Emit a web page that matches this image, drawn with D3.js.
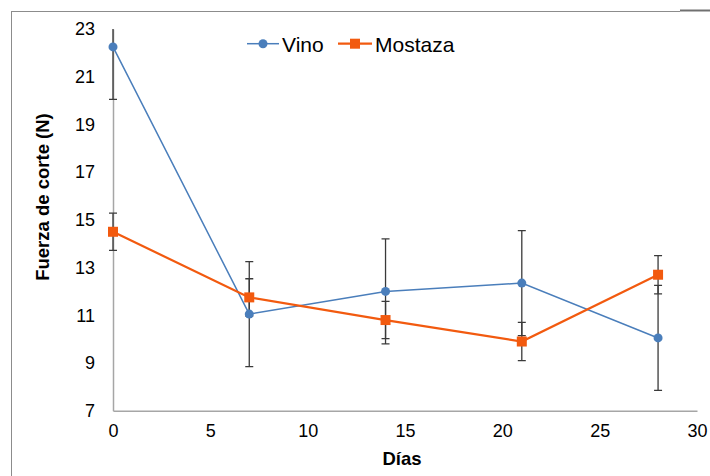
<!doctype html>
<html lang="es">
<head>
    <meta charset="UTF-8">
    <title>Fuerza de corte</title>
    <script src="https://cdnjs.cloudflare.com/ajax/libs/d3/7.8.5/d3.min.js"></script>
    <style>
        body { margin: 0; background: #fff; }
        svg text { font-family: "Liberation Sans", Arial, sans-serif; fill: #000; }
    </style>
</head>
<body>
<svg id="chart" width="710" height="476"></svg>
<script>

    // values
    var dias = [0, 7, 14, 21, 28];
    var vino = [22.25, 11.05, 12.0, 12.35, 10.05];
    var vinoErr = [2.2, 2.2, 2.2, 2.2, 2.2];
    var mostaza = [14.5, 11.75, 10.8, 9.9, 12.7];
    var mostazaErr = [0.78, 0.78, 0.78, 0.8, 0.8];
    var yTicks = [7, 9, 11, 13, 15, 17, 19, 21, 23];
    var xTicks = [0, 5, 10, 15, 20, 25, 30];

    var series = [
        {name: 'Vino', values: vino, err: vinoErr, color: '#4a7ebb', width: 1.5, marker: 'circle'},
        {name: 'Mostaza', values: mostaza, err: mostazaErr, color: '#f25a0f', width: 2.2, marker: 'square'}
    ];

    var svg = d3.select('#chart');

    var x = d3.scaleLinear().domain([0, 30]).range([113, 697]);
    var y = d3.scaleLinear().domain([7, 23]).range([410.7, 29]);

    // outer frame (cropped)
    svg.append('line').attr('x1', 11).attr('x2', 680).attr('y1', 11.5).attr('y2', 11.5)
        .attr('stroke', '#8c8c8c').attr('stroke-width', 1);
    svg.append('line').attr('x1', 680).attr('x2', 710).attr('y1', 10.5).attr('y2', 10.5)
        .attr('stroke', '#707070').attr('stroke-width', 2);
    svg.append('line').attr('x1', 11.5).attr('x2', 11.5).attr('y1', 11).attr('y2', 476)
        .attr('stroke', '#8c8c8c').attr('stroke-width', 1);

    // axes
    var yAxis = svg.append('g').attr('transform', 'translate(' + x(0) + ',0)')
        .call(d3.axisLeft(y).tickValues(yTicks).tickSize(0).tickPadding(18));
    var xAxis = svg.append('g').attr('transform', 'translate(0,' + y(7) + ')')
        .call(d3.axisBottom(x).tickValues(xTicks).tickSize(0).tickPadding(14));

    [yAxis, xAxis].forEach(function (g) {
        g.select('.domain').attr('stroke', '#a6a6a6').attr('stroke-width', 1.5);
        g.selectAll('text').attr('font-size', '18px').attr('font-family', '"Liberation Sans", Arial, sans-serif').attr('fill', '#000');
    });

    // axis titles
    svg.append('text')
        .attr('x', x(15) - 3).attr('y', 465)
        .attr('text-anchor', 'middle')
        .attr('font-size', '18.5px').attr('font-weight', 'bold')
        .text('Días');

    svg.append('text')
        .attr('transform', 'translate(49,197) rotate(-90)')
        .attr('text-anchor', 'middle')
        .attr('font-size', '18.5px').attr('font-weight', 'bold')
        .text('Fuerza de corte (N)');

    // error bars (clipped to plot area)
    svg.append('clipPath').attr('id', 'plot')
        .append('rect').attr('x', x(0) - 10).attr('y', y(23)).attr('width', x(30) - x(0) + 20).attr('height', y(7) - y(23));

    var errG = svg.append('g').attr('clip-path', 'url(#plot)');
    series.forEach(function (s) {
        dias.forEach(function (d, i) {
            var hi = s.values[i] + s.err[i], lo = s.values[i] - s.err[i];
            var cx = x(d);
            errG.append('line').attr('x1', cx).attr('x2', cx).attr('y1', y(hi)).attr('y2', y(lo))
                .attr('stroke', '#3a3a3a').attr('stroke-width', 1.3);
            [hi, lo].forEach(function (v) {
                errG.append('line').attr('x1', cx - 4).attr('x2', cx + 4).attr('y1', y(v)).attr('y2', y(v))
                    .attr('stroke', '#3a3a3a').attr('stroke-width', 1.3);
            });
        });
    });

    // lines and markers
    var line = d3.line().x(function (d, i) { return x(dias[i]); }).y(function (d) { return y(d); });

    function drawMarker(g, s, cx, cy) {
        if (s.marker === 'circle') {
            g.append('circle').attr('cx', cx).attr('cy', cy).attr('r', 4.5).attr('fill', s.color);
        } else {
            g.append('rect').attr('x', cx - 5).attr('y', cy - 5).attr('width', 10).attr('height', 10).attr('fill', s.color);
        }
    }

    series.forEach(function (s) {
        svg.append('path').datum(s.values).attr('d', line)
            .attr('fill', 'none').attr('stroke', s.color).attr('stroke-width', s.width);
    });
    series.forEach(function (s) {
        var g = svg.append('g');
        s.values.forEach(function (v, i) { drawMarker(g, s, x(dias[i]), y(v)); });
    });

    // legend
    var legendPos = [{x1: 247, x2: 279, tx: 282}, {x1: 338, x2: 372, tx: 375}];
    series.forEach(function (s, i) {
        var p = legendPos[i];
        var g = svg.append('g');
        g.append('line').attr('x1', p.x1).attr('x2', p.x2).attr('y1', 43.7).attr('y2', 43.7)
            .attr('stroke', s.color).attr('stroke-width', s.width);
        drawMarker(g, s, (p.x1 + p.x2) / 2, 43.7);
        g.append('text').attr('x', p.tx).attr('y', 51.5).attr('font-size', '21px').text(s.name);
    });

</script>
</body>
</html>
